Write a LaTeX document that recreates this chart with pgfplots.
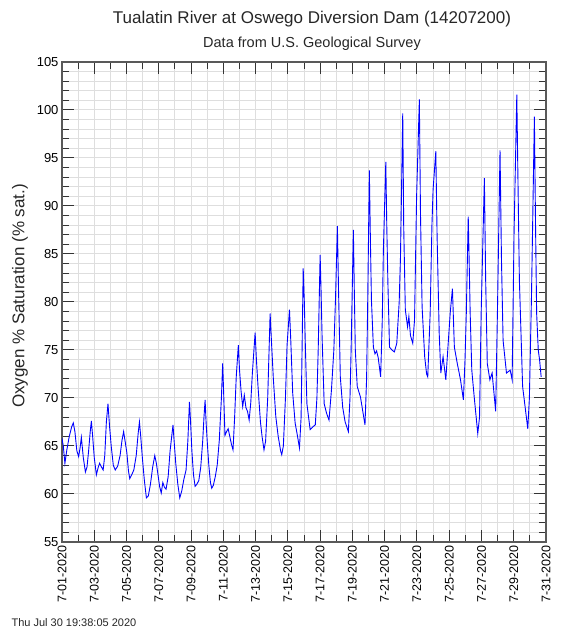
\documentclass[border=0pt]{standalone}
\usepackage{fontspec}
\setmainfont{Liberation Sans}
\usepackage{pgfplots}
\pgfplotsset{compat=1.18}

\pgfplotstableread{
d v
0.00 65.8
0.08 65.0
0.18 63.2
0.30 64.6
0.45 66.0
0.60 67.0
0.70 67.4
0.80 66.5
0.92 64.5
1.03 63.9
1.12 64.8
1.20 65.9
1.32 63.8
1.45 62.3
1.55 62.8
1.65 64.5
1.75 66.5
1.82 67.6
1.90 66.0
2.00 63.8
2.13 62.0
2.25 62.8
2.33 63.2
2.45 62.8
2.55 62.5
2.65 64.0
2.75 67.5
2.85 69.4
2.95 67.0
3.05 65.0
3.18 63.0
3.30 62.5
3.45 62.9
3.60 64.0
3.72 65.6
3.82 66.5
3.92 65.4
4.02 64.3
4.12 62.4
4.20 61.6
4.32 62.0
4.45 62.5
4.60 64.0
4.72 66.3
4.80 67.5
4.88 66.0
4.98 63.8
5.10 61.5
5.23 59.6
5.35 59.8
5.48 61.0
5.62 62.8
5.75 64.0
5.85 63.2
5.95 62.0
6.05 60.8
6.15 60.1
6.25 61.2
6.35 60.7
6.45 60.5
6.58 61.8
6.70 64.5
6.80 66.0
6.88 67.2
6.95 65.5
7.05 63.2
7.18 61.0
7.30 59.6
7.42 60.3
7.55 61.5
7.69 62.5
7.80 65.5
7.90 69.6
7.97 67.5
8.05 64.5
8.15 62.0
8.25 60.8
8.35 61.0
8.48 61.4
8.60 62.8
8.72 65.5
8.80 68.0
8.87 69.8
8.93 67.5
9.00 65.5
9.10 63.0
9.20 61.2
9.28 60.6
9.38 60.9
9.50 61.8
9.62 63.0
9.75 65.6
9.88 70.0
9.96 73.6
10.03 70.0
10.10 66.1
10.20 66.5
10.30 66.8
10.40 66.0
10.50 65.2
10.60 64.6
10.70 68.0
10.80 72.2
10.93 75.5
11.00 73.0
11.10 70.7
11.20 69.1
11.30 70.3
11.40 69.0
11.50 68.6
11.60 67.7
11.70 69.5
11.80 72.6
11.97 76.8
12.05 74.0
12.15 71.2
12.30 67.5
12.40 66.0
12.52 64.6
12.62 65.5
12.75 70.0
12.90 78.8
12.98 76.0
13.10 72.0
13.25 68.1
13.40 66.0
13.55 64.5
13.62 64.1
13.72 65.0
13.85 70.0
13.95 75.5
14.10 79.2
14.18 76.0
14.30 70.5
14.45 67.4
14.60 66.0
14.72 64.8
14.82 68.0
14.88 75.0
14.95 83.5
15.02 80.0
15.08 75.7
15.18 69.4
15.38 66.7
15.55 67.0
15.70 67.2
15.80 70.0
15.88 75.0
16.00 84.9
16.06 81.0
16.12 76.4
16.25 69.4
16.40 68.4
16.55 67.7
16.70 70.8
16.85 75.0
16.95 80.2
17.07 87.9
17.14 81.3
17.25 72.2
17.40 69.0
17.55 67.5
17.75 66.5
17.85 70.0
17.92 75.0
18.06 87.5
18.12 81.0
18.18 75.0
18.30 71.2
18.50 70.1
18.78 67.2
18.88 72.0
18.95 80.2
19.05 93.7
19.12 86.0
19.18 80.2
19.30 75.3
19.40 74.6
19.50 74.9
19.60 74.2
19.75 72.2
19.85 78.0
19.92 85.4
20.07 94.6
20.13 88.0
20.20 82.0
20.30 75.3
20.45 75.0
20.60 74.8
20.75 75.7
20.90 80.0
20.98 84.7
21.12 99.65
21.18 87.85
21.28 79.2
21.42 77.4
21.50 78.5
21.60 76.5
21.74 75.7
21.85 78.1
21.98 91.0
22.15 101.1
22.22 89.2
22.32 79.5
22.48 74.3
22.60 72.5
22.67 72.2
22.82 78.8
22.93 88.0
23.00 91.7
23.17 95.7
23.25 86.8
23.38 76.75
23.48 72.6
23.62 74.3
23.79 71.9
23.95 76.0
24.06 78.8
24.20 81.4
24.32 75.3
24.50 73.6
24.70 71.9
24.88 69.8
24.98 74.0
25.06 78.8
25.18 88.9
25.24 84.0
25.30 78.8
25.40 72.9
25.55 70.1
25.77 66.3
25.88 68.0
25.98 78.8
26.18 92.9
26.26 82.3
26.36 73.6
26.52 71.9
26.66 72.6
26.88 68.6
27.00 80.0
27.15 95.8
27.24 84.4
27.34 76.0
27.55 72.6
27.78 72.9
27.90 71.9
28.02 87.2
28.19 101.6
28.25 94.1
28.35 82.3
28.55 71.2
28.87 66.8
28.97 70.0
29.10 80.6
29.28 99.3
29.35 88.2
29.42 78.8
29.52 75.0
29.60 74.0
29.70 72.2
}\oxy

\begin{document}
\begin{tikzpicture}
\path[use as bounding box] (0,0) rectangle (561pt,631pt);

\begin{axis}[
  at={(62pt,89pt)}, anchor=south west,
  scale only axis, width=484pt, height=480pt,
  xmin=0, xmax=30, ymin=55, ymax=105,
  xtick={0,2,...,30},
  minor xtick={1,3,...,29},
  xticklabels={7-01-2020,7-03-2020,7-05-2020,7-07-2020,7-09-2020,7-11-2020,7-13-2020,7-15-2020,7-17-2020,7-19-2020,7-21-2020,7-23-2020,7-25-2020,7-27-2020,7-29-2020,7-31-2020},
  xticklabel style={rotate=90, anchor=east, font=\fontsize{12.5}{14}\selectfont},
  ytick={55,60,...,105},
  minor ytick={56,57,58,59,61,62,63,64,66,67,68,69,71,72,73,74,76,77,78,79,81,82,83,84,86,87,88,89,91,92,93,94,96,97,98,99,101,102,103,104},
  yticklabel style={font=\fontsize{13}{15}\selectfont},
  /pgf/number format/assume math mode=true,
  grid=both,
  major grid style={black!13, line width=1pt},
  minor grid style={black!13, line width=1pt},
  tick align=inside,
  tick pos=both,
  major tick length=12pt,
  minor tick length=7pt,
  every tick/.style={black!80, line width=1pt},
  axis line style={black!65, line width=1.6pt},
]
\addplot[blue, line width=0.9pt] table[x=d, y=v] {\oxy};
\end{axis}

\node[font=\fontsize{17}{20}\selectfont, text=black!85] at (312pt,612pt) {Tualatin River at Oswego Diversion Dam (14207200)};
\node[font=\fontsize{14.5}{17}\selectfont, text=black!85] at (312pt,587pt) {Data from U.S. Geological Survey};
\node[rotate=90, font=\fontsize{17}{20}\selectfont, text=black!85] at (20pt,335pt) {Oxygen \% Saturation (\% sat.)};
\node[anchor=west, font=\fontsize{11}{13}\selectfont, text=black!85] at (8pt,8pt) {Thu Jul 30 19:38:05 2020};
\end{tikzpicture}
\end{document}
